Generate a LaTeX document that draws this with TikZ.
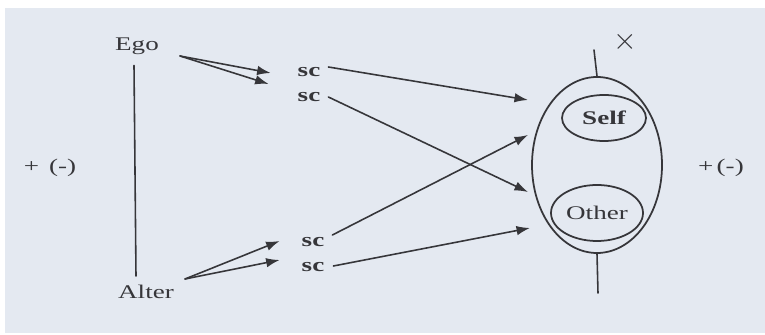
\documentclass[tikz,border=0pt]{standalone}
\usepackage{fontspec}
\setmainfont{Liberation Serif}
\newfontfamily\scanfont[FakeStretch=1.4]{Liberation Serif}
\usetikzlibrary{arrows.meta,calc,positioning,shapes.geometric}
\definecolor{paperbg}{HTML}{E4E9F1}
\definecolor{inkgray}{HTML}{36363A}
\tikzset{
  >={Latex[length=2.7mm,width=1.9mm]},
  tag/.style={font=\scanfont\fontsize{11}{13}\selectfont, text=inkgray, inner sep=1pt},
  sctag/.style={font=\scanfont\fontsize{11}{13}\selectfont\bfseries, text=inkgray, inner sep=1pt},
  link/.style={draw=inkgray, line width=0.9pt},
  ring/.style={draw=inkgray, line width=1.0pt},
}

\begin{document}
\begin{tikzpicture}[line cap=round, line join=round]
  \useasboundingbox (0,0) rectangle (15.3,6.7);
  \fill[white] (0,0) rectangle (15.3,6.7);
  \fill[paperbg] (0.10,0.04) rectangle (15.3,6.54);

  \node[tag] (ego) at (2.74, 5.78) {Ego};
  \node[tag] (alter) at (2.92, 0.86) {Alter};
  \node[tag] (signl) at (1.00, 3.34) {+ \,(-)};
  \node[tag] (signr) at (14.42, 3.34) {+\,(-)};

  \node[sctag] (sc1) at (6.18, 5.26) {sc};
  \node[sctag] (sc2) at (6.18, 4.76) {sc};
  \node[sctag] (sc3) at (6.26, 1.86) {sc};
  \node[sctag] (sc4) at (6.26, 1.36) {sc};

  % identity: the large oval with self and other inside
  \node[ring, ellipse, minimum width=2.60cm, minimum height=3.52cm] (ident) at (11.94, 3.40) {};
  \node[sctag, ring, ellipse, minimum width=1.68cm, minimum height=0.92cm, inner sep=0pt] (self) at (12.08, 4.34) {Self};
  \node[tag, ring, ellipse, minimum width=1.84cm, minimum height=1.12cm, inner sep=0pt] (other) at (11.94, 2.44) {Other};
  \node[tag, font=\LARGE\bfseries] (cross) at (12.50, 5.86) {$\times$};
  \coordinate (topend) at (11.88, 5.70);
  \coordinate (botend) at (11.96, 0.84);

  \coordinate (egoout) at (3.60, 5.58);
  \coordinate (alterout) at (3.70, 1.12);
  \coordinate (inselfa) at (10.56, 4.70);
  \coordinate (inselfb) at (10.56, 4.00);
  \coordinate (inothera) at (10.56, 2.86);
  \coordinate (inotherb) at (10.60, 2.14);

  \draw[link] (ego.south) ++(-0.06,-0.18) -- ($(alter.north)+(-0.20,0.14)$);
  \draw[link] (ident.north) -- (topend);
  \draw[link] (ident.south) -- (botend);

  \draw[link, ->] (egoout) -- ($(sc1.west)+(-0.50,-0.02)$);
  \draw[link, ->] (egoout) -- ($(sc2.west)+(-0.54,0.26)$);
  \draw[link, ->] (alterout) -- ($(sc3.west)+(-0.40,0.02)$);
  \draw[link, ->] (alterout) -- ($(sc4.west)+(-0.40,0.14)$);

  \draw[link, ->] (sc1.east) ++(0.12,0.10) -- (inselfa);
  \draw[link, ->] (sc2.east) ++(0.12,0) -- (inothera);
  \draw[link, ->] (sc3.east) ++(0.12,0.14) -- (inselfb);
  \draw[link, ->] (sc4.east) ++(0.14,0.02) -- (inotherb);
\end{tikzpicture}
\end{document}
